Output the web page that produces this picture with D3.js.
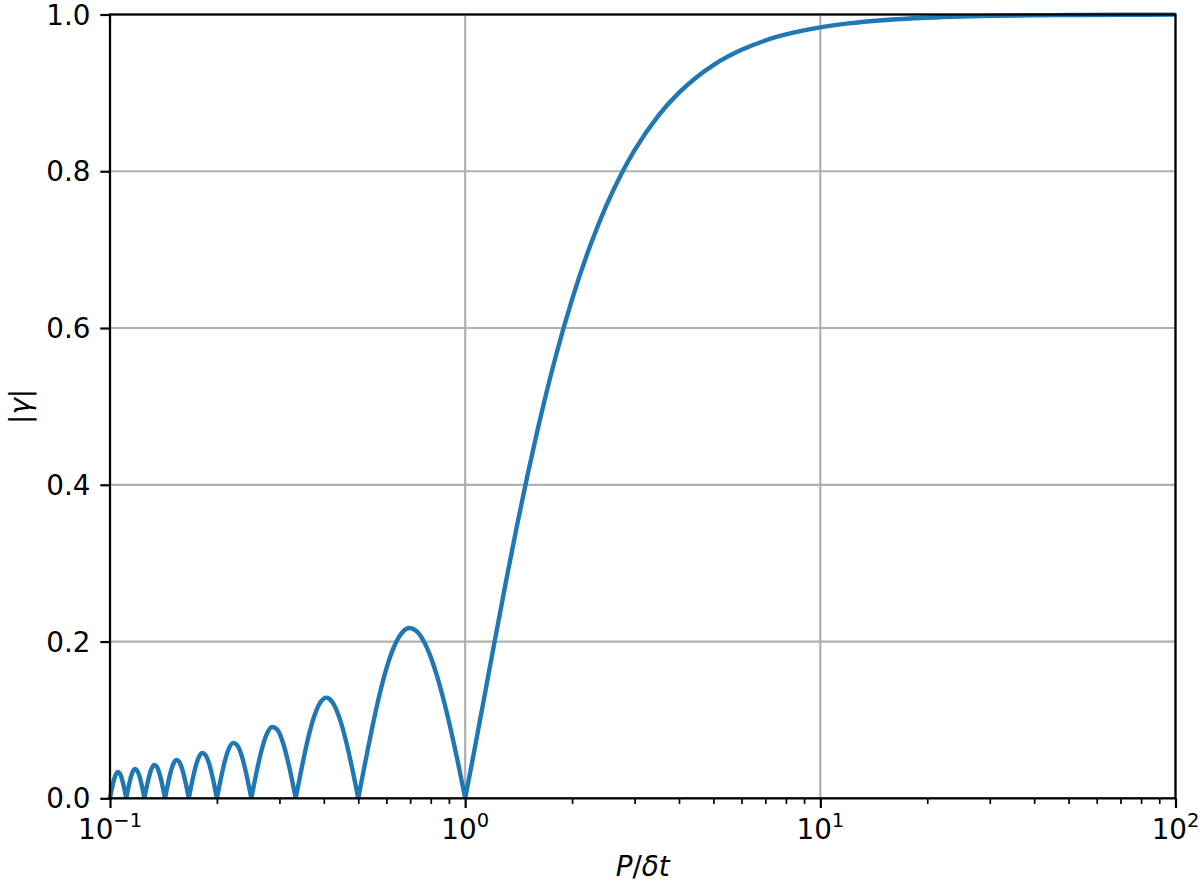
<!DOCTYPE html>
<html>
<head>
<meta charset="utf-8">
<script src="https://cdn.jsdelivr.net/npm/d3@7"></script>
<style>
  html, body { margin: 0; padding: 0; background: #fff; }
  svg { display: block; }
  text { font-family: "DejaVu Sans", sans-serif; fill: #000; }
</style>
</head>
<body>
<svg id="chart" width="1200" height="884"></svg>
<script>
// ---- data ----
const period = [
  0.1, 0.10127, 0.10256, 0.10390, 0.10526, 0.10667, 0.10811, 0.10959, 0.11111,
  0.11268, 0.11429, 0.11594, 0.11765, 0.11940, 0.12121, 0.12308, 0.125,
  0.12698, 0.12903, 0.13115, 0.13333, 0.13559, 0.13793, 0.14035, 0.14286,
  0.14545, 0.14815, 0.15094, 0.15385, 0.15686, 0.16, 0.16327, 0.16667,
  0.17021, 0.17391, 0.17778, 0.18182, 0.18605, 0.19048, 0.19512, 0.2,
  0.20513, 0.21053, 0.21622, 0.22222, 0.22857, 0.23529, 0.24242, 0.25,
  0.25806, 0.26667, 0.27586, 0.28571, 0.2963, 0.30769, 0.32, 0.33333,
  0.34286, 0.35294, 0.36364, 0.375, 0.3871, 0.4, 0.40678, 0.41379, 0.42857, 0.44444, 0.46154, 0.48, 0.5,
  0.51613, 0.53333, 0.55172, 0.57143, 0.59259, 0.61538, 0.64, 0.66667, 0.69565, 0.72727, 0.7619, 0.8, 0.84211, 0.88889, 0.94118, 1.0,
  1.05, 1.1, 1.15, 1.2, 1.3, 1.4, 1.5, 1.6, 1.8, 2, 2.25, 2.5, 2.75, 3, 3.5, 4, 4.5, 5, 6, 7, 8, 10, 12, 15, 20, 25, 30, 40, 50, 70, 100
];
const gamma = [
  0, 0.0123, 0.0231, 0.0306, 0.0335, 0.0314, 0.0243, 0.0134, 0,
  0.0137, 0.0257, 0.0341, 0.0375, 0.0351, 0.0273, 0.0150, 0,
  0.0155, 0.0290, 0.0386, 0.0424, 0.0399, 0.0310, 0.0171, 0,
  0.0177, 0.0333, 0.0444, 0.0490, 0.0461, 0.0360, 0.0199, 0,
  0.0207, 0.0391, 0.0523, 0.0579, 0.0547, 0.0429, 0.0238, 0,
  0.0250, 0.0474, 0.0636, 0.0707, 0.0672, 0.0530, 0.0295, 0,
  0.0314, 0.0600, 0.0811, 0.0910, 0.0871, 0.0693, 0.0390, 0,
  0.0283, 0.0562, 0.0819, 0.1034, 0.1190, 0.1273, 0.1284, 0.1272, 0.1181, 0.1000, 0.0735, 0.0396, 0,
  0.0321, 0.0650, 0.0976, 0.1286, 0.1568, 0.1810, 0.1998, 0.2122, 0.2172, 0.2139, 0.2017, 0.1801, 0.1489, 0.1083, 0.0585, 0,
  0.0498, 0.0987, 0.1458, 0.1910, 0.2744, 0.3484, 0.4135, 0.4705, 0.5643, 0.6366, 0.7053, 0.7568, 0.7963, 0.8270, 0.8710, 0.9003, 0.9207, 0.9355, 0.9549, 0.9668, 0.9745, 0.9836, 0.9886, 0.9927, 0.9959, 0.9974, 0.9982, 0.9990, 0.9993, 0.9997, 0.9998
];
const xMajorTicks = [0.1, 1, 10, 100];
const xTickExponents = ["\u22121", "0", "1", "2"];
const yTicks = [0, 0.2, 0.4, 0.6, 0.8, 1.0];
const yTickLabels = ["0.0", "0.2", "0.4", "0.6", "0.8", "1.0"];

// ---- layout ----
const L = 110, R = 1175.5, T = 14.5, B = 798.3;
const svg = d3.select("#chart");
const x = d3.scaleLog().domain([0.1, 100]).range([L, R]);
const y = d3.scaleLinear().domain([0, 1]).range([B, T]);
const FS = 27.8;
const gridColor = "#b0b0b0";

// grid
const grid = svg.append("g");
grid.selectAll("line.gx").data(xMajorTicks).join("line")
  .attr("x1", d => x(d)).attr("x2", d => x(d)).attr("y1", T).attr("y2", B)
  .attr("stroke", gridColor).attr("stroke-width", 2.2);
grid.selectAll("line.gy").data(yTicks).join("line")
  .attr("x1", L).attr("x2", R).attr("y1", d => y(d)).attr("y2", d => y(d))
  .attr("stroke", gridColor).attr("stroke-width", 2.2);

// curve: split at the zeros so each lobe is smooth and the zeros stay sharp
const pts = period.map((p, i) => [p, gamma[i]]);
const pieces = [];
let cur = [];
pts.forEach((d, i) => {
  cur.push(d);
  if (d[1] === 0 && i > 0) { pieces.push(cur); cur = [d]; }
});
if (cur.length > 1) pieces.push(cur);
const lineGen = d3.line().x(d => x(d[0])).y(d => y(d[1])).curve(d3.curveMonotoneX);
const combined = pieces.map(p => lineGen(p)).join("");
svg.append("path")
  .attr("fill", "none").attr("stroke", "#1f77b4").attr("stroke-width", 4.4)
  .attr("stroke-linejoin", "round").attr("stroke-linecap", "butt")
  .attr("d", combined);

// x axis
const minorX = [];
[0.1, 1, 10].forEach(dec => { for (let k = 2; k <= 9; k++) minorX.push(k * dec); });
const xAxis = d3.axisBottom(x).tickValues(xMajorTicks).tickFormat("").tickSize(9.7).tickSizeOuter(0);
const gx = svg.append("g").attr("transform", `translate(0,${B})`).call(xAxis);
gx.select(".domain").remove();
gx.selectAll(".tick line").attr("stroke", "#000").attr("stroke-width", 2.2);
const xMinorAxis = d3.axisBottom(x).tickValues(minorX).tickFormat("").tickSize(5.6).tickSizeOuter(0);
const gxm = svg.append("g").attr("transform", `translate(0,${B})`).call(xMinorAxis);
gxm.select(".domain").remove();
gxm.selectAll(".tick line").attr("stroke", "#000").attr("stroke-width", 1.7);

xMajorTicks.forEach((v, i) => {
  const t = svg.append("text").attr("x", x(v)).attr("y", 839).attr("text-anchor", "middle")
    .style("font-size", FS + "px");
  t.append("tspan").text("10");
  t.append("tspan").attr("dy", -12).style("font-size", (FS * 0.7) + "px").text(xTickExponents[i]);
});

// y axis
const yAxis = d3.axisLeft(y).tickValues(yTicks).tickFormat("").tickSize(9.7).tickSizeOuter(0);
const gy = svg.append("g").attr("transform", `translate(${L},0)`).call(yAxis);
gy.select(".domain").remove();
gy.selectAll(".tick line").attr("stroke", "#000").attr("stroke-width", 2.2);
yTicks.forEach((v, i) => {
  svg.append("text").attr("x", 90.5).attr("y", y(v)).attr("dy", "0.36em")
    .attr("text-anchor", "end").style("font-size", FS + "px").text(yTickLabels[i]);
});

// spines
svg.append("rect").attr("x", L).attr("y", T).attr("width", R - L).attr("height", B - T)
  .attr("fill", "none").attr("stroke", "#000").attr("stroke-width", 2.2);

// axis labels
const xl = svg.append("text").attr("x", (L + R) / 2).attr("y", 876).attr("text-anchor", "middle")
  .style("font-size", FS + "px");
xl.append("tspan").style("font-style", "italic").text("P");
xl.append("tspan").text("/");
xl.append("tspan").style("font-style", "italic").text("\u03b4t");

const yl = svg.append("text").attr("transform", `translate(30,${(T + B) / 2}) rotate(-90)`)
  .attr("text-anchor", "middle").style("font-size", FS + "px");
yl.append("tspan").text("|");
yl.append("tspan").style("font-style", "italic").text("\u03b3");
yl.append("tspan").text("|");
</script>
</body>
</html>
